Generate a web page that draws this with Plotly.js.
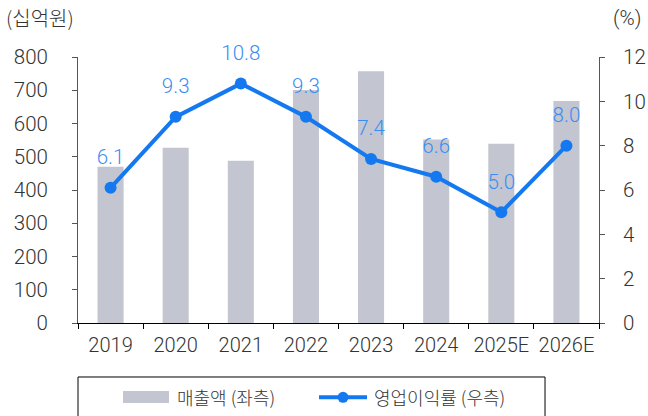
<!DOCTYPE html>
<html>
<head>
<meta charset="utf-8">
<script src="https://cdn.plot.ly/plotly-3.0.1.min.js"></script>
<style>html,body{margin:0;padding:0;background:#fff;}#chart{width:648px;height:416px;}</style>
</head>
<body>
<div id="chart"></div>
<script>
const categories = ['2019', '2020', '2021', '2022', '2023', '2024', '2025E', '2026E'];
const sales = [470, 527, 488, 701, 757, 552, 539, 668];
const opMargin = [6.1, 9.3, 10.8, 9.3, 7.4, 6.6, 5.0, 8.0];
const leftTicks = [0, 100, 200, 300, 400, 500, 600, 700, 800];
const rightTicks = [0, 2, 4, 6, 8, 10, 12];
const seriesNames = ['매출액 (좌측)', '영업이익률 (우측)'];
const unitLeft = '(십억원)';
const unitRight = '(%)';

const FONT = 'Roboto, "Noto Sans CJK KR", sans-serif';
const KFONT = '"Noto Sans CJK KR", "Noto Sans", sans-serif';
const BAR_COLOR = '#c3c5d1';
const LINE_COLOR = '#1479f0';
const TEXT_BLUE = '#3a8ef2';
const TICK_COLOR = '#333333';
const numFont = (size, color) => ({family: FONT, size: size, color: color || TICK_COLOR, weight: 300});

const barTrace = {
  type: 'bar', x: categories, y: sales, name: seriesNames[0],
  marker: {color: BAR_COLOR}, width: 0.4, hoverinfo: 'skip', showlegend: false
};
const lineTrace = {
  type: 'scatter', mode: 'lines+markers', x: categories, y: opMargin, yaxis: 'y2',
  name: seriesNames[1], line: {color: LINE_COLOR, width: 4},
  marker: {color: LINE_COLOR, size: 12}, cliponaxis: false, showlegend: false
};
// value labels: text-only trace with an invisible, larger marker to set the offset
const labelTrace = {
  type: 'scatter', mode: 'markers+text', x: categories, y: opMargin, yaxis: 'y2',
  marker: {size: 28, opacity: 0},
  text: opMargin.map(v => v.toFixed(1)), textposition: 'top center',
  textfont: numFont(20.5, TEXT_BLUE), cliponaxis: false, showlegend: false, hoverinfo: 'skip'
};

// custom legend (paper coords)
const legY = -0.2793;
const shapes = [
  {type: 'rect', xref: 'paper', yref: 'paper', x0: 0, x1: 0.8964, y0: -0.203, y1: -0.36,
   line: {color: '#000', width: 1}, fillcolor: 'rgba(0,0,0,0)'},
  {type: 'rect', xref: 'paper', yref: 'paper', x0: 0.0864, x1: 0.1747, y0: -0.2556, y1: -0.3008,
   line: {width: 0}, fillcolor: BAR_COLOR},
  {type: 'line', xref: 'paper', yref: 'paper', x0: 0.4626, x1: 0.5547, y0: legY, y1: legY,
   line: {color: LINE_COLOR, width: 4}},
  {type: 'circle', xref: 'paper', yref: 'paper', xsizemode: 'pixel', ysizemode: 'pixel',
   xanchor: 0.5087, yanchor: legY, x0: -5.5, x1: 5.5, y0: -5.5, y1: 5.5,
   line: {width: 0}, fillcolor: LINE_COLOR}
];
const annotations = [
  {xref: 'paper', yref: 'paper', x: -0.142, y: 1.147, xanchor: 'left', yanchor: 'middle',
   text: unitLeft, showarrow: false, font: {family: KFONT, size: 20, color: TICK_COLOR}},
  {xref: 'paper', yref: 'paper', x: 1.023, y: 1.147, xanchor: 'left', yanchor: 'middle',
   text: unitRight, showarrow: false, font: numFont(20.5)},
  {xref: 'paper', yref: 'paper', x: 0.186, y: legY, xanchor: 'left', yanchor: 'middle',
   text: seriesNames[0], showarrow: false, font: {family: KFONT, size: 18, color: TICK_COLOR}},
  {xref: 'paper', yref: 'paper', x: 0.564, y: legY, xanchor: 'left', yanchor: 'middle',
   text: seriesNames[1], showarrow: false, font: {family: KFONT, size: 18, color: TICK_COLOR}}
];

const layout = {
  width: 648, height: 416,
  margin: {l: 78, r: 49, t: 57, b: 93, pad: 0},
  paper_bgcolor: '#fff', plot_bgcolor: '#fff',
  font: numFont(20),
  showlegend: false,
  bargap: 0.6,
  xaxis: {
    type: 'category', range: [-0.5, 7.5], tickson: 'boundaries', tickangle: 0,
    ticks: 'outside', ticklen: 5, tickcolor: '#000', showline: true, linecolor: '#000', linewidth: 1,
    showgrid: false, zeroline: false, ticklabelstandoff: 4, tickfont: numFont(20), fixedrange: true
  },
  yaxis: {
    range: [0, 800], tickvals: leftTicks, ticks: 'outside', ticklen: 5, tickcolor: '#555',
    showline: true, linecolor: '#555', linewidth: 1, showgrid: false, zeroline: false,
    ticklabelstandoff: 20, tickfont: numFont(20.5), fixedrange: true
  },
  yaxis2: {
    overlaying: 'y', side: 'right', range: [0, 12], tickvals: rightTicks,
    ticks: 'outside', ticklen: 5, tickcolor: '#555', showline: true, linecolor: '#555', linewidth: 1,
    showgrid: false, zeroline: false, ticklabelstandoff: 14,
    tickfont: numFont(20.5), fixedrange: true
  },
  shapes: shapes,
  annotations: annotations
};

Plotly.newPlot('chart', [barTrace, lineTrace, labelTrace], layout, {staticPlot: true, displayModeBar: false});
</script>
</body>
</html>
